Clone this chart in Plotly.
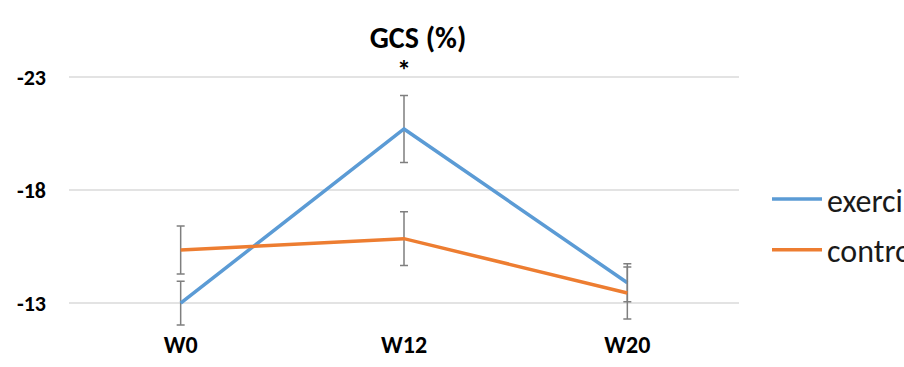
import plotly.graph_objects as go

weeks = ["W0", "W12", "W20"]
exercise = [-13.0, -20.7, -13.9]
exercise_err = [0.97, 1.48, 0.84]
control = [-15.35, -15.85, -13.45]
control_err = [1.06, 1.19, 1.15]
y_ticks = [-23, -18, -13]
y_tick_labels = ["-23", "-18", "-13"]
title_text = "GCS (%)"
signif_week = "W12"

FONT = "Carlito, Calibri, Lato, sans-serif"

fig = go.Figure()
fig.add_trace(go.Scatter(
    x=weeks, y=exercise, name="exercise", mode="lines",
    line=dict(color="#5b9bd5", width=3.5),
    error_y=dict(type="data", array=exercise_err, color="#7f7f7f", thickness=1.5, width=4),
    legendgroup="a",
))
fig.add_trace(go.Scatter(
    x=weeks, y=control, name="control", mode="lines",
    line=dict(color="#ed7d31", width=3.5),
    error_y=dict(type="data", array=control_err, color="#7f7f7f", thickness=1.5, width=4),
    legendgroup="b",
))

fig.add_annotation(x=signif_week, y=-23.3, text="<b>*</b>", showarrow=False,
                   font=dict(family=FONT, size=28, color="#000000"), yanchor="middle")

fig.update_layout(
    width=904, height=367,
    margin=dict(l=69, r=165, t=55, b=39, autoexpand=False),
    paper_bgcolor="white", plot_bgcolor="white",
    font=dict(family=FONT, color="#000000"),
    title=dict(text="<b>" + title_text + "</b>", xref="container", x=418 / 904,
               xanchor="center", yref="container", y=1 - 37 / 367, yanchor="middle",
               font=dict(family=FONT, size=30, color="#000000")),
    showlegend=True,
    legend=dict(x=(767 - 69) / 670, xanchor="left", y=0.378, yanchor="middle",
                font=dict(family=FONT, size=32, color="#1a1a1a"),
                tracegroupgap=6, itemwidth=50, bgcolor="rgba(0,0,0,0)"),
    xaxis=dict(type="category", range=[-0.5, 2.5], showgrid=False, showline=False,
               zeroline=False, ticks="",
               tickfont=dict(family=FONT, size=24, color="#000000"),
               tickprefix="<b>", ticksuffix="</b>"),
    yaxis=dict(range=[-11.9, -23.97], tickvals=y_ticks,
               ticktext=["<b>" + t + "</b>" for t in y_tick_labels],
               showgrid=True, gridcolor="#e3e3e3", gridwidth=2, zeroline=False,
               showline=False, ticks="", ticklabelstandoff=22,
               tickfont=dict(family=FONT, size=22, color="#000000")),
)

fig.write_html("out.html", config={"displayModeBar": False},
               post_script="document.body.style.margin='0';")
